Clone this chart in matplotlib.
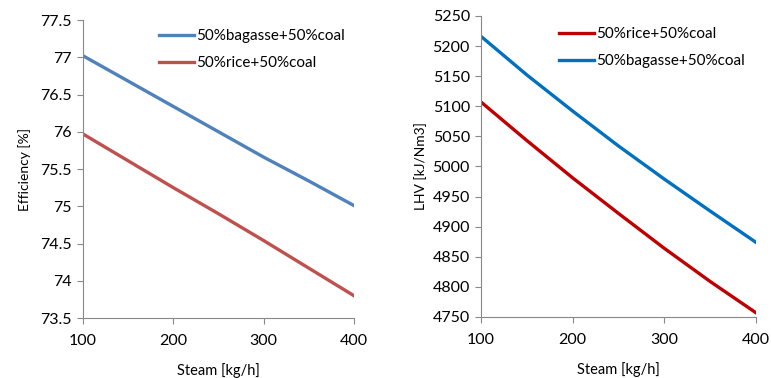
import matplotlib
matplotlib.use("Agg")
import matplotlib.pyplot as plt

plt.rcParams['font.family'] = ['Lato', 'DejaVu Sans']

steam = [100, 150, 200, 250, 300, 350, 400]

# efficiency [%]
eff_bagasse = [77.02, 76.68, 76.34, 76.00, 75.66, 75.34, 75.01]
eff_rice = [75.97, 75.61, 75.25, 74.90, 74.54, 74.17, 73.80]

# LHV [kJ/Nm3]
lhv_rice = [5107, 5043, 4981, 4922, 4864, 4809, 4757]
lhv_bagasse = [5216, 5152, 5092, 5034, 4979, 4926, 4874]

fig = plt.figure(figsize=(7.71, 3.78), dpi=100)
ax1 = fig.add_axes([0.1077, 0.1587, 0.3513, 0.7883])
ax2 = fig.add_axes([0.624, 0.1614, 0.3565, 0.7963])

ax1.plot(steam, eff_bagasse, color='#4F81BD', lw=2.4, label='50%bagasse+50%coal')
ax1.plot(steam, eff_rice, color='#C0504D', lw=2.4, label='50%rice+50%coal')
ax1.set_ylim(73.5, 77.5)
ax1.set_yticks([73.5, 74, 74.5, 75, 75.5, 76, 76.5, 77, 77.5])
ax1.set_yticklabels(['73.5', '74', '74.5', '75', '75.5', '76', '76.5', '77', '77.5'])
ax1.set_ylabel('Efficiency [%]', fontsize=10, labelpad=7)

ax2.plot(steam, lhv_rice, color='#C00000', lw=2.4, label='50%rice+50%coal')
ax2.plot(steam, lhv_bagasse, color='#0070C0', lw=2.4, label='50%bagasse+50%coal')
ax2.set_ylim(4750, 5250)
ax2.set_yticks(range(4750, 5251, 50))
ax2.set_ylabel('LHV [kJ/Nm3]', fontsize=10, labelpad=4)

for ax in (ax1, ax2):
    ax.set_xlim(100, 400)
    ax.set_xticks([100, 200, 300, 400])
    ax.set_xlabel('Steam [kg/h]', fontsize=10.5, labelpad=11)
    for s in ('top', 'right'):
        ax.spines[s].set_visible(False)
    for s in ('left', 'bottom'):
        ax.spines[s].set_color('#898989')
        ax.spines[s].set_linewidth(0.8)
    ax.tick_params(colors='#898989', length=4.5, width=0.8, labelsize=11.5, labelcolor='#000000')
    ax.tick_params(axis='x', pad=7)

ax1.legend(loc='upper right', frameon=False, fontsize=11, handlelength=2.3,
           handletextpad=0.1, labelspacing=0.85, borderaxespad=0.2)
ax2.legend(loc='upper right', frameon=False, fontsize=11, handlelength=2.3,
           handletextpad=0.1, labelspacing=0.85, borderaxespad=0.35)

fig.savefig('out.png', dpi=100)
